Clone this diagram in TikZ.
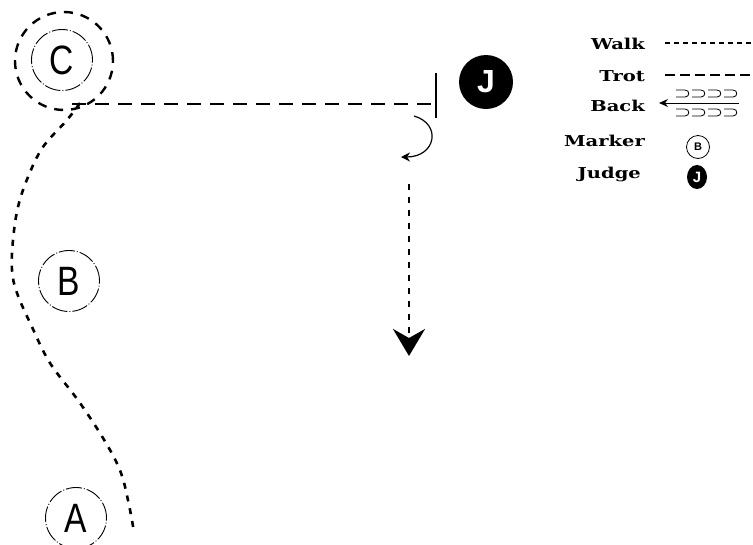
\documentclass[tikz,border=0pt]{standalone}
\usepackage{fontspec}
\setmainfont[FakeStretch=1.3]{DejaVu Serif}
\newfontfamily\lblfont[FakeStretch=0.82]{Liberation Sans}
\newfontfamily\jfont{Liberation Sans}
\usetikzlibrary{arrows.meta,shapes.geometric}
\begin{document}
\begin{tikzpicture}[x=1pt,y=-1pt,
  walkline/.style={line width=2.6pt,dash pattern=on 6pt off 7pt},
  trotline/.style={line width=1.6pt,dash pattern=on 14pt off 9pt},
  marker/.style={circle,draw,line width=0.9pt,dash pattern=on 16pt off 2pt on 1pt off 2pt,
    minimum size=61pt,inner sep=0pt,font=\lblfont\fontsize{41}{41}\selectfont},
  ring/.style={circle,draw,line width=2.4pt,dash pattern=on 9pt off 8pt,minimum size=98pt,inner sep=0pt},
  judge/.style={circle,fill=black,text=white,inner sep=0pt,minimum size=54pt,
    font=\jfont\bfseries\fontsize{32}{32}\selectfont},
  legend/.style={anchor=east,inner sep=0pt,font=\bfseries\fontsize{15}{15}\selectfont},
  smallmark/.style={circle,draw,line width=0.8pt,inner sep=0pt,minimum size=23pt,font=\jfont\bfseries\fontsize{11}{11}\selectfont},
  smalljudge/.style={ellipse,fill=black,text=white,inner sep=0pt,minimum width=20pt,minimum height=24pt,font=\jfont\bfseries\fontsize{15}{15}\selectfont},
  thinline/.style={line width=1.2pt},
  backshape/.style={line width=0.8pt}]
\useasboundingbox (0,0) rectangle (753,544);

% markers
\node[marker] (C) at (62,60) {C};
\node[ring] (Cring) at (64,61) {};
\node[marker] (B) at (69,281) {B};
\node[marker] (A) at (76,518) {A};

% judge
\node[judge] (J) at (486,82) {J};

% bar at end of trot line
\coordinate (bartop) at (436,73);
\coordinate (barbot) at (436,118);
\coordinate (barmid) at (436,104);
\coordinate (hstart) at (72,104);
\draw[line width=2pt] (bartop) -- (barbot);
\draw[trotline] (hstart) -- (barmid);

% turn arrow
\coordinate (turnA) at (414,116);
\coordinate (turnB) at (401,157);
\draw[thinline,-{Stealth[length=9pt,width=9pt,inset=3pt]}] (turnA) .. controls (442,124) and (436,157) .. (turnB);

% walk down arrow
\coordinate (downA) at (409,184);
\coordinate (downB) at (409,356);
\draw[walkline,-{Stealth[length=27pt,width=32pt,inset=9pt]}] (downA) -- (downB);

% left walk path
\draw[walkline] plot[smooth,tension=0.6] coordinates {(80,103) (67,120) (43,147) (28,177) (18,207) (13,240) (12,270) (17,293) (32,327) (50,363) (80,403) (106,443) (121,473) (129,505) (134,532)};

% legend
\node[legend] (lwalk) at (645,44) {Walk};
\coordinate (lwalkA) at (665,43);
\coordinate (lwalkB) at (753,43);
\draw[line width=1.2pt,dash pattern=on 5pt off 4pt] (lwalkA) -- (lwalkB);

\node[legend] (ltrot) at (645,76) {Trot};
\coordinate (ltrotA) at (665,75);
\coordinate (ltrotB) at (753,75);
\draw[line width=1.5pt,dash pattern=on 10pt off 5pt] (ltrotA) -- (ltrotB);

\node[legend] (lback) at (645,106) {Back};
\coordinate (lbackA) at (739,103);
\coordinate (lbackB) at (659,103);
\draw[line width=1pt,-{Stealth[length=9pt,width=8pt]}] (lbackA) -- (lbackB);
\foreach \x in {676,692,708,724}{
  \draw[backshape] (\x,90) -- (\x+9,90) .. controls (\x+14,90) and (\x+14,97) .. (\x+9,97) -- (\x,97);
  \draw[backshape] (\x,109) -- (\x+9,109) .. controls (\x+14,109) and (\x+14,116) .. (\x+9,116) -- (\x,116);
}

\node[legend] (lmarker) at (645,141) {Marker};
\node[smallmark] (mB) at (698,147) {B};

\node[legend] (ljudge) at (641,174) {Judge};
\node[smalljudge] (mJ) at (697,177) {J};
\end{tikzpicture}
\end{document}
